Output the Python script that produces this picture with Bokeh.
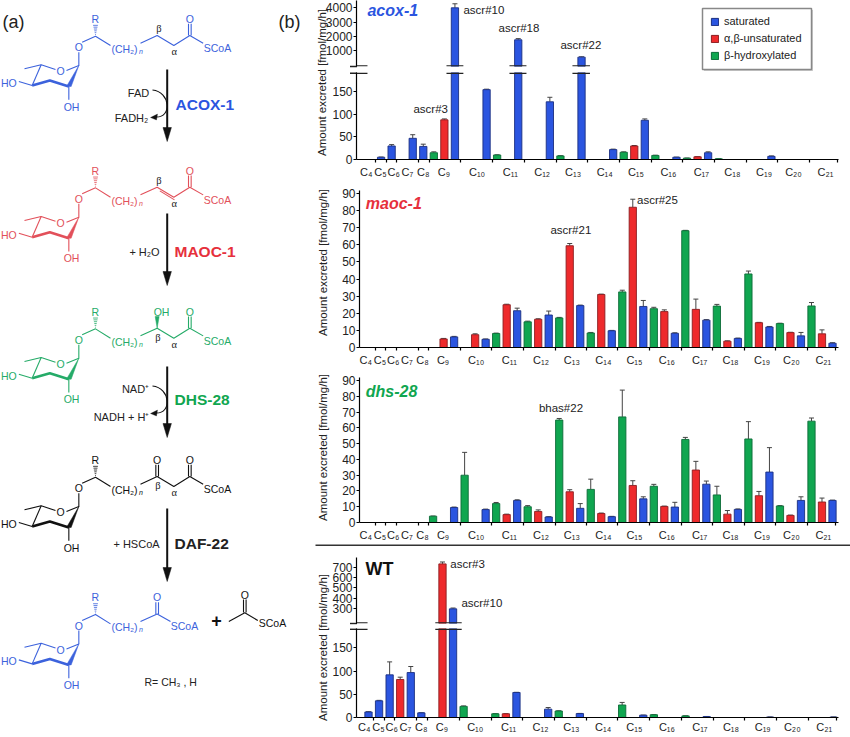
from bokeh.plotting import figure
from bokeh.layouts import row, column
from bokeh.models import (Range1d, FixedTicker, ColumnDataSource, Whisker, TeeHead, Legend, LegendItem, BoxAnnotation)
from bokeh.core.properties import value
from bokeh.embed import file_html
from bokeh.resources import INLINE

FONT = "Liberation Sans"
BLUE, RED, GREEN = "#2b55e0", "#ee2a2c", "#10a650"
BLUE_E, RED_E, GREEN_E = "#1b2f80", "#8a1d20", "#0c6b38"
S_BLUE, S_RED, S_GREEN = "#3c62dc", "#e2505a", "#25ab68"

# ---------------- data (per carbon number C4..C21) ----------------
carbon_labels = ["C₄", "C₅", "C₆", "C₇", "C₈", "C₉", "C₁₀", "C₁₁", "C₁₂", "C₁₃", "C₁₄", "C₁₅", "C₁₆", "C₁₇", "C₁₈", "C₁₉", "C₂₀", "C₂₁"]
label_slots = [0.6, 1.95, 3.2, 4.5, 6.0, 7.95, 11.1, 14.26, 17.27, 20.2, 23.2, 26.16, 29.24, 32.36, 35.3, 38.3, 41.1, 44.13]
tick_slots = [1.48, 2.5, 3.5, 5.57, 6.56, 9.57, 12.6, 15.6, 18.6, 21.6, 24.56, 27.6, 30.6, 33.6, 36.6, 39.6, 42.6, 45.3]

sat_slots = [1, 2, 3, 5, 6, 9, 12, 15, 18, 21, 24, 27, 30, 33, 36, 39, 42, 45]
unsat_slots = [None, None, None, 4, None, 8, 11, 14, 17, 20, 23, 26, 29, 32, 35, 38, 41, 44]
hyd_slots = [None, None, None, None, 7, 10, 13, 16, 19, 22, 25, 28, 31, 34, 37, 40, 43, 46]

acox_sat = [0, 5, 30, 47, 29, 4000, 155, 1770, 128, 560, 22, 87, 5, 15, 0, 7, 0, 0]
acox_sat_err = [0, 0.5, 3, 8, 5, 280, 1, 80, 10, 25, 1, 3, 0.3, 2, 0, 1, 0, 0]
acox_unsat = [0, 0, 0, 0, 0, 88, 0, 0, 0, 0, 0, 30, 0, 6, 0, 0, 0, 0]
acox_unsat_err = [0, 0, 0, 0, 0, 2, 0, 0, 0, 0, 0, 1, 0, 0.3, 0, 0, 0, 0]
acox_hyd = [0, 0, 0, 0, 15, 0, 10, 0, 8, 0, 16, 9, 3, 1.5, 0, 0, 0, 0]
acox_hyd_err = [0, 0, 0, 0, 2, 0, 0.5, 0, 0.5, 0, 1, 0.5, 0.3, 0.2, 0, 0, 0, 0]

maoc_sat = [0, 0, 0, 0, 0, 6.2, 4.8, 21.5, 19, 24.5, 9.8, 24, 8.3, 16, 5.3, 12, 6.8, 2.5]
maoc_sat_err = [0, 0, 0, 0, 0, 0.3, 0.2, 1.5, 2.3, 0.3, 0.2, 3.5, 0.3, 0.3, 0.2, 0.3, 2, 0.3]
maoc_unsat = [0, 0, 0, 0, 0, 5, 7.5, 25, 16.5, 59.5, 31, 82, 21, 22.3, 3.7, 14.5, 8.7, 8]
maoc_unsat_err = [0, 0, 0, 0, 0, 0.3, 0.5, 0.3, 0.3, 1.3, 0.2, 4.7, 1, 6, 0.2, 0.2, 0.2, 2.3]
maoc_hyd = [0, 0, 0, 0, 0, 0, 8.2, 15, 17.3, 8.5, 32.5, 22.7, 68.3, 24.2, 43, 14, 24.3, 0]
maoc_hyd_err = [0, 0, 0, 0, 0, 0, 0.2, 0.4, 0.3, 0.3, 1, 0.8, 0.2, 1, 1.7, 0.2, 2, 0]

dhs_sat = [0, 0, 0, 0, 0, 9.5, 8.2, 14, 3.5, 9, 3.7, 15, 9.8, 24.3, 8.3, 32, 14, 14]
dhs_sat_err = [0, 0, 0, 0, 0, 0.3, 0.3, 0.4, 0.2, 3, 0.2, 1.3, 3, 2, 0.3, 15.5, 2.3, 0.2]
dhs_unsat = [0, 0, 0, 0, 0, 0, 0, 5, 7, 19.5, 5.7, 23.5, 10.2, 33.3, 5.3, 17, 4.5, 13]
dhs_unsat_err = [0, 0, 0, 0, 0, 0, 0, 0.3, 1, 1.3, 0.3, 3, 0.2, 5.5, 2.3, 2.7, 0.2, 2.5]
dhs_hyd = [0, 0, 0, 0, 4, 30, 12, 10, 65, 21, 67, 23, 52.7, 17.5, 53, 10.5, 64.3, 0]
dhs_hyd_err = [0, 0, 0, 0, 0.1, 14.5, 0.7, 0.7, 1, 6.5, 17, 1.2, 1.3, 5.5, 11, 0.2, 2, 0]

wt_sat = [12, 36, 92, 97, 10, 300, 0, 54, 18, 8.5, 0, 5, 0, 2, 0, 1, 0, 1]
wt_sat_err = [0.5, 1, 28, 13, 0.3, 8, 0, 0.3, 3.5, 0.3, 0, 0.2, 0, 0.2, 0, 0.1, 0, 0.1]
wt_unsat = [0, 0, 0, 82, 0, 730, 0, 8, 0, 0, 0, 0, 0, 0, 0, 0, 0, 0]
wt_unsat_err = [0, 0, 0, 5, 0, 18, 0, 0.2, 0, 0, 0, 0, 0, 0, 0, 0, 0, 0]
wt_hyd = [0, 0, 0, 0, 0, 24, 8, 0, 14, 0, 27, 6, 3.5, 0, 0, 0, 0, 0]
wt_hyd_err = [0, 0, 0, 0, 0, 1, 0.3, 0, 0.5, 0, 5.5, 0.2, 0.2, 0, 0, 0, 0, 0]

series_names = ["saturated", "α,β-unsaturated", "β-hydroxylated"]
y_label = "Amount excreted [fmol/mg/h]"
SCHEME_W = 850          # full-page backdrop: pathway scheme, y labels, dividers
FIG_LEFT = 316          # transparent chart panels start here, on top of the backdrop
FIG_W = 850 - FIG_LEFT
FRAME_R = 838
BAR_W = 0.69


def panel(canvas_top, canvas_bot, frame_top, frame_bot, frame_left, xr, yr, yticks, show_x=True, standoff=3):
    p = figure(width=FIG_W, height=canvas_bot - canvas_top, x_range=Range1d(*xr), y_range=Range1d(*yr),
               toolbar_location=None, output_backend="svg", frame_align=False,
               min_border_left=frame_left - FIG_LEFT, min_border_right=850 - FRAME_R,
               min_border_top=frame_top - canvas_top, min_border_bottom=canvas_bot - frame_bot)
    p.outline_line_color = None
    p.grid.visible = False
    p.background_fill_color = None
    p.border_fill_color = None
    ya = p.yaxis[0]
    ya.ticker = FixedTicker(ticks=yticks)
    ya.major_tick_in = 0
    ya.major_tick_out = 3
    ya.minor_tick_out = 0
    ya.minor_tick_in = 0
    ya.major_label_standoff = 1
    ya.major_label_text_font = FONT
    ya.major_label_text_font_size = "12px"
    ya.major_label_text_color = "#222222"
    ya.axis_line_width = 1.2
    ya.major_tick_line_width = 1
    xa = p.xaxis[0]
    if show_x:
        xa.ticker = FixedTicker(ticks=label_slots, minor_ticks=tick_slots)
        xa.major_label_overrides = dict(zip(label_slots, carbon_labels))
        xa.major_tick_in = 0
        xa.major_tick_out = 0
        xa.minor_tick_in = 0
        xa.minor_tick_out = 3
        xa.minor_tick_line_width = 1.2
        xa.major_label_standoff = standoff
        xa.major_label_text_font = FONT
        xa.major_label_text_font_size = "11px"
        xa.major_label_text_color = "#222222"
        xa.axis_line_width = 1.2
    else:
        xa.visible = False
    return p


def bars(p, slots, vals, errs, color, edge, base=0, vmin=0, vmax=None):
    xs, tops = [], []
    wx, wl, wu = [], [], []
    for s, v, e in zip(slots, vals, errs):
        if s is None or v <= vmin:
            continue
        xs.append(s)
        tops.append(v)
        if vmax is None or v + e < vmax:
            wx.append(s)
            wl.append(v)
            wu.append(v + e)
    src = ColumnDataSource(dict(x=xs, top=tops))
    r = p.vbar(x="x", top="top", bottom=base, width=BAR_W, source=src, fill_color=color, line_color=edge, line_width=0.9)
    wsrc = ColumnDataSource(dict(x=wx, l=wl, u=wu))
    p.add_layout(Whisker(base="x", lower="l", upper="u", source=wsrc, line_color="#444444", line_width=1,
                         lower_head=None, upper_head=TeeHead(size=5, line_color="#444444", line_width=1)))
    return r


def series(p, sat, sat_e, uns, uns_e, hyd, hyd_e, base=0, vmin=0, vmax=None):
    bars(p, sat_slots, sat, sat_e, BLUE, BLUE_E, base, vmin, vmax)
    bars(p, unsat_slots, uns, uns_e, RED, RED_E, base, vmin, vmax)
    bars(p, hyd_slots, hyd, hyd_e, GREEN, GREEN_E, base, vmin, vmax)


def note(p, x, y, s):
    p.text([x], [y], text=[s], text_font=value(FONT), text_font_size="11.5px", text_color="#222222",
           text_baseline="middle", text_align="left")


def gene(p, x, y, s, color, style="bold italic", size="16px"):
    p.text([x], [y], text=[s], text_font=value(FONT), text_font_size=size, text_font_style=style, text_color=color,
           text_baseline="middle", text_align="left")


def brk(p, y, spans):
    for l, r in spans:
        p.add_layout(BoxAnnotation(left=l, right=r, left_units="data", right_units="data",
                                   top=y - 0.7, bottom=y + 0.7, top_units="canvas", bottom_units="canvas",
                                   fill_color="#222222", fill_alpha=1, line_color=None))


# acox-1
ax = (-0.33, 45.36)
a1 = panel(0, 70, 0, 66, 356, ax, (-93, 4509), [1000, 2000, 3000, 4000], show_x=False)
series(a1, acox_sat, acox_sat_err, acox_unsat, acox_unsat_err, acox_hyd, acox_hyd_err, base=-93, vmin=200)
a2 = panel(70, 183, 72, 159, 356, ax, (0, 193), [0, 50, 100, 150])
series(a2, acox_sat, acox_sat_err, acox_unsat, acox_unsat_err, acox_hyd, acox_hyd_err, vmax=193)
acox_breaks = [(-0.33, 0.71), (8.2, 9.8), (14.17, 15.78), (20.14, 21.8)]
brk(a1, 65.4, acox_breaks)
brk(a2, 2.8, acox_breaks)
gene(a1, 0.71, 3840, "acox-1", "#2b55e0")
note(a1, 9.81, 3860, "ascr#10")
note(a1, 13.13, 2625, "ascr#18")
note(a1, 19.0, 1440, "ascr#22")
note(a2, 5.07, 111.6, "ascr#3")
# off-range swatches that only feed the legend
key = [a1.vbar(x=[-5], top=[-6000], bottom=[-7000], width=1, fill_color=c, line_color=e)
       for c, e in [(BLUE, BLUE_E), (RED, RED_E), (GREEN, GREEN_E)]]
leg = Legend(items=[LegendItem(label=n, renderers=[r]) for n, r in zip(series_names, key)],
             location=(354, 5), orientation="vertical", glyph_width=9, glyph_height=9, label_standoff=5,
             spacing=5, padding=7, margin=0, border_line_color=None, background_fill_alpha=0,
             label_text_font=FONT, label_text_font_size="11px", label_text_color="#222222", label_height=12)
a1.add_layout(leg)

# maoc-1
mx = (0, 45.57)
m = panel(183, 370, 190, 347, 359, mx, (0, 91.8), list(range(0, 100, 10)))
series(m, maoc_sat, maoc_sat_err, maoc_unsat, maoc_unsat_err, maoc_hyd, maoc_hyd_err)
gene(m, 0.6, 84, "maoc-1", "#e6303c")
note(m, 18.16, 68.6, "ascr#21")
note(m, 26.4, 86, "ascr#25")

# dhs-28
d = panel(370, 548, 377, 522, 359, mx, (0, 92), list(range(0, 100, 10)))
series(d, dhs_sat, dhs_sat_err, dhs_unsat, dhs_unsat_err, dhs_hyd, dhs_hyd_err)
gene(d, 0.6, 83, "dhs-28", "#10a650")
note(d, 17.07, 72.4, "bhas#22")

# WT
wx = (-0.135, 45.47)
w1 = panel(548, 626, 557, 623, 356, wx, (160, 791), [300, 400, 500, 600, 700], show_x=False)
series(w1, wt_sat, wt_sat_err, wt_unsat, wt_unsat_err, wt_hyd, wt_hyd_err, base=160, vmin=200)
w2 = panel(626, 737, 628, 717, 356, wx, (0, 192), [0, 50, 100, 150], standoff=0)
series(w2, wt_sat, wt_sat_err, wt_unsat, wt_unsat_err, wt_hyd, wt_hyd_err, vmax=192)
wt_breaks = [(-0.135, 0.91), (7.32, 9.82)]
brk(w1, 74.4, wt_breaks)
brk(w2, 2.8, wt_breaks)
gene(w1, 0.72, 680, "WT", "#111111", style="bold", size="18px")
note(w1, 8.74, 728.6, "ascr#3")
note(w1, 9.79, 357, "ascr#10")

# ---------------- backdrop: scheme (a), y labels, dividers ----------------
s = figure(width=SCHEME_W, height=737, x_range=Range1d(0, SCHEME_W), y_range=Range1d(737, 0), toolbar_location=None,
           output_backend="svg", min_border=0, x_axis_location=None, y_axis_location=None, frame_align=False)
s.outline_line_color = None
s.grid.visible = False
s.background_fill_color = None
s.border_fill_color = None


def T(x, y, t, color="#222222", size=10.5, style="normal", align="center", font=FONT, angle=0):
    s.text([x], [y], text=[t], text_color=color, text_font=value(font), text_font_size=f"{size}px",
           text_font_style=style, text_align=align, text_baseline="middle", angle=angle)


def L(pts, color, lw=1.1):
    s.line([q[0] for q in pts], [q[1] for q in pts], line_color=color, line_width=lw)


def structure(dy, color, kind):
    def z(a, b):
        return (a / 3, b / 3 + dy)
    def B(*pts, lw=1.1):
        L([z(*q) for q in pts], color, lw)
    T(*z(235, 140), "O", color)
    T(*z(284, 55), "R", color)
    for i, hw in enumerate([0.4, 0.8, 1.2, 1.6, 2.0, 2.4]):
        yy = 102 - i * 5.5
        B((285 - hw * 3, yy), (285 + hw * 3, yy), lw=0.8)
    B((245, 125), (285, 107), (330, 135))
    B((235, 155), (235, 195), (198, 210))
    B((165, 207), (122, 193), (72, 205))
    B((122, 193), (95, 255))
    B((55, 243), (95, 255))
    B((205, 258), (205, 298))
    B((95, 255), (148, 240), (205, 258), lw=2.6)
    s.patch([z(198, 258)[0], z(212, 258)[0], z(235, 195)[0]], [z(198, 258)[1], z(212, 258)[1], z(235, 195)[1]],
            fill_color=color, line_color=color, line_width=0.5)
    T(*z(180, 212), "O", color)
    T(*z(25, 247), "HO", color)
    T(*z(213, 318), "OH", color)
    T(*z(372, 145), "(CH₂)", color)
    T(*z(421, 153), "n", color, size=7, style="italic")
    if kind == "final":
        B((420, 128), (470, 105), (510, 128))
        B((466, 105), (466, 70))
        B((474, 105), (474, 70))
        T(*z(470, 55), "O", color)
        T(*z(552, 142), "SCoA", color)
        return
    B((420, 128), (470, 105), (520, 135), (568, 105), (608, 128))
    B((564, 105), (564, 70))
    B((572, 105), (572, 70))
    T(*z(568, 55), "O", color)
    T(*z(651, 142), "SCoA", color)
    if kind == "double":
        B((478, 116), (522, 143))
    if kind == "hydroxy":
        s.patch([z(470, 105)[0], z(464, 70)[0], z(476, 70)[0]], [z(470, 105)[1], z(464, 70)[1], z(476, 70)[1]],
                fill_color=color, line_color=color, line_width=0.5)
        T(*z(483, 55), "OH", color)
    if kind == "keto":
        B((466, 105), (466, 70))
        B((474, 105), (474, 70))
        T(*z(470, 55), "O", color)
    if kind in ("hydroxy", "keto"):
        T(*z(472, 133), "β", "#222222", font="Liberation Serif")
    else:
        T(*z(475, 85), "β", "#222222", font="Liberation Serif")
    T(*z(521, 154), "α", "#222222", font="Liberation Serif")


structure(0, S_BLUE, "plain")
structure(151.7, S_RED, "double")
structure(292.7, S_GREEN, "hydroxy")
structure(441, "#111111", "keto")
structure(578.4, S_BLUE, "final")

for y0, y1 in [(69, 141), (213, 285), (366, 437), (508, 581)]:
    s.segment([166.7], [y0], [166.7], [y1 - 10], line_color="#111111", line_width=2)
    s.patch([162.5, 170.9, 166.7], [y1 - 14, y1 - 14, y1], fill_color="#111111", line_color="#111111", line_width=0.5)

for y_a, y_b in [(89.5, 116.5), (385.5, 412.5)]:
    s.bezier(x0=[152], y0=[y_a], x1=[155], y1=[y_b], cx0=[170], cy0=[y_a + 2], cx1=[172], cy1=[y_b + 1],
             line_color="#111111", line_width=1.1)
    s.patch([150, 157, 156], [y_b + 0.5, y_b - 3, y_b + 3], fill_color="#111111", line_color="#111111", line_width=0.3)

T(2, 21, "(a)", size=18, align="left")
T(278, 21, "(b)", size=18, align="left")
T(138, 92, "FAD", size=11)
T(131, 117, "FADH₂", size=11)
T(144, 251, "+ H₂O", size=11)
T(135, 388, "NAD⁺", size=11)
T(121, 416, "NADH + H⁺", size=11)
T(136, 543.5, "+ HSCoA", size=11)
T(175, 104, "ACOX-1", "#2b55e0", size=15.5, style="bold", align="left")
T(174, 251, "MAOC-1", "#e6303c", size=15.5, style="bold", align="left")
T(174, 399, "DHS-28", "#10a650", size=15.5, style="bold", align="left")
T(174, 543, "DAF-22", "#222222", size=15.5, style="bold", align="left")

# acetyl-CoA and footnote
T(216, 620, "+", "#111111", size=18, style="bold")
L([(228.3, 621), (244.3, 612.3), (257.3, 620)], "#111111")
L([(243, 612), (243, 599)], "#111111")
L([(245.6, 612), (245.6, 599)], "#111111")
T(244.3, 594.3, "O", "#111111")
T(272, 622.7, "SCoA", "#111111")
T(144, 681, "R= CH₃ , H", "#222222", size=10.5, align="left")

for x_, y_ in [(321.5, 82), (322.5, 262), (322.5, 447), (322.5, 647)]:
    T(x_, y_, y_label, size=11.5, angle=1.5708)

# divider between mutants and WT, left parts of the axis-break marks, legend frame
s.quad(left=[315], right=[850], top=[544], bottom=[545.4], fill_color="#333333", line_color=None)
for yy in (66, 72.8, 623, 628.8):
    s.quad(left=[349.5], right=[356.5], top=[yy - 0.7], bottom=[yy + 0.7], fill_color="#222222", line_color=None)
s.quad(left=[703.5], right=[812.5], top=[9.5], bottom=[70.5], fill_color="#cccccc", line_color=None)
s.quad(left=[702], right=[811], top=[8], bottom=[69], fill_color="#ffffff", line_color="#888888", line_width=1.5)

right = column(a1, a2, m, d, w1, w2, spacing=0, margin=(0, 0, 0, FIG_LEFT - SCHEME_W))
page = row(s, right, spacing=0)
open("out.html", "w").write(file_html(page, INLINE))
